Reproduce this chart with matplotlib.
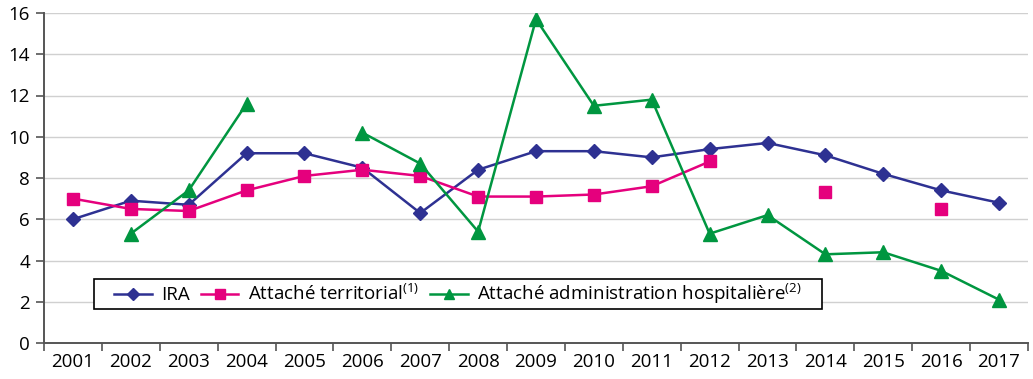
import numpy as np
import matplotlib
matplotlib.use("Agg")
import matplotlib.pyplot as plt
from matplotlib.patches import Rectangle
from matplotlib.ticker import FixedLocator

plt.rcParams['font.family'] = ['Open Sans', 'DejaVu Sans']
plt.rcParams['mathtext.fontset'] = 'custom'
plt.rcParams['mathtext.rm'] = 'Open Sans'

years = [str(y) for y in range(2001, 2018)]
nan = np.nan
ira = [6.0, 6.9, 6.7, 9.2, 9.2, 8.5, 6.3, 8.4, 9.3, 9.3, 9.0, 9.4, 9.7, 9.1, 8.2, 7.4, 6.8]
territorial = [7.0, 6.5, 6.4, 7.4, 8.1, 8.4, 8.1, 7.1, 7.1, 7.2, 7.6, 8.8, nan, 7.3, nan, 6.5, nan]
hospitaliere = [nan, 5.3, 7.4, 11.6, nan, 10.2, 8.7, 5.4, 15.7, 11.5, 11.8, 5.3, 6.2, 4.3, 4.4, 3.5, 2.1]

labels = ['IRA',
          r'Attaché territorial$^{\mathregular{(1)}}$',
          r'Attaché administration hospitalière$^{\mathregular{(2)}}$']

fig = plt.figure(figsize=(10.33, 3.79), dpi=100)
ax = fig.add_axes([44/1033, 1-343/379, 984/1033, 330/379])

x = np.arange(len(years))
ax.plot(x, ira, color='#2e3192', lw=1.8, marker='D', ms=7.5, label=labels[0])
ax.plot(x, territorial, color='#e5007d', lw=1.8, marker='s', ms=9, label=labels[1])
ax.plot(x, hospitaliere, color='#009640', lw=1.8, marker='^', ms=9.5, label=labels[2])

ax.set_xlim(-0.5, len(years) - 0.5)
ax.set_ylim(0, 16)
ax.set_yticks(range(0, 17, 2))
ax.set_xticks(x)
ax.set_xticklabels(years)
ax.tick_params(axis='x', which='major', length=0, pad=7, labelsize=13.5)
ax.xaxis.set_minor_locator(FixedLocator(np.arange(-0.5, len(years), 1)))
ax.tick_params(axis='x', which='minor', length=6, color='#555555', width=1.2)
ax.tick_params(axis='y', length=6, color='#555555', width=1.2, labelsize=13.5, pad=4)

ax.grid(axis='y', color='#d0d0d0', lw=1)
ax.set_axisbelow(True)
for s in ['top', 'right']:
    ax.spines[s].set_visible(False)
for s in ['left', 'bottom']:
    ax.spines[s].set_color('#555555')
    ax.spines[s].set_linewidth(1.4)

handles, _ = ax.get_legend_handles_labels()
leg = fig.legend(handles, labels, loc='lower left', bbox_to_anchor=(0.0683, 0.103),
                 bbox_transform=ax.transAxes, ncol=3, fontsize=13.5,
                 frameon=False, markerscale=0.8,
                 handlelength=2.0, columnspacing=0.6, handletextpad=0.5,
                 borderaxespad=0, borderpad=0.15)
leg.set_zorder(5)

# legend box drawn by hand: wider padding at the sides than at top/bottom
fig.canvas.draw()
bb = leg.get_window_extent()
pad_x = 17
box = Rectangle((bb.x0 - pad_x, bb.y0), bb.width + 2 * pad_x, bb.height,
                transform=None, facecolor='white', edgecolor='black', lw=1.2, zorder=4)
fig.patches.append(box)

fig.savefig('out.png', dpi=100)
